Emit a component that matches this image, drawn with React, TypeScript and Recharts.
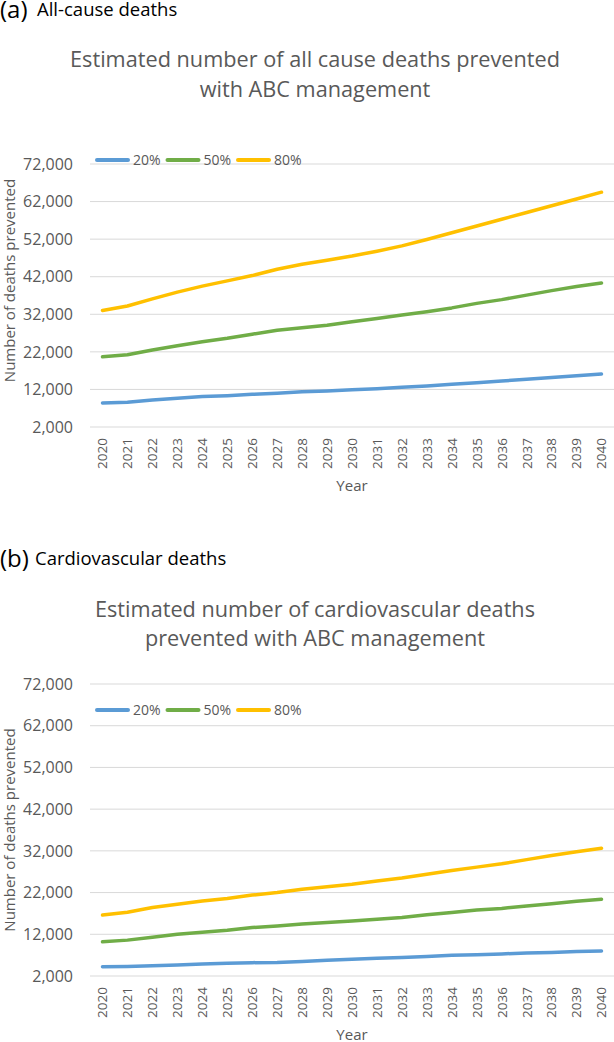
import React from "react";
import { LineChart, Line, XAxis, YAxis, CartesianGrid } from "recharts";

const years = [
  "2020", "2021", "2022", "2023", "2024", "2025", "2026", "2027", "2028", "2029", "2030",
  "2031", "2032", "2033", "2034", "2035", "2036", "2037", "2038", "2039", "2040",
];

// (a) all-cause deaths prevented
const allCause20 = [8400, 8600, 9200, 9650, 10100, 10350, 10700, 11000, 11400, 11600, 11900, 12200, 12550, 12900, 13350, 13800, 14250, 14700, 15200, 15650, 16100];
const allCause50 = [20700, 21250, 22500, 23650, 24700, 25600, 26700, 27750, 28400, 29100, 30000, 30900, 31800, 32700, 33700, 34900, 35900, 37100, 38300, 39400, 40300];
const allCause80 = [33000, 34200, 36100, 37900, 39500, 40900, 42300, 44000, 45300, 46400, 47500, 48800, 50200, 51900, 53700, 55500, 57300, 59100, 60900, 62700, 64500];

// (b) cardiovascular deaths prevented
const cardio20 = [4200, 4300, 4450, 4650, 4850, 5050, 5200, 5250, 5500, 5750, 6000, 6250, 6450, 6700, 6950, 7100, 7300, 7500, 7650, 7850, 8000];
const cardio50 = [10200, 10600, 11300, 12000, 12500, 12950, 13600, 14000, 14450, 14850, 15200, 15600, 16000, 16700, 17200, 17800, 18200, 18800, 19300, 19900, 20400];
const cardio80 = [16600, 17300, 18400, 19200, 20000, 20600, 21400, 22000, 22800, 23400, 24000, 24800, 25500, 26400, 27300, 28100, 28900, 29900, 30900, 31800, 32600];

const yTicks = [2000, 12000, 22000, 32000, 42000, 52000, 62000, 72000];

const series = [
  { key: "p20", name: "20%", color: "#5B9BD5" },
  { key: "p50", name: "50%", color: "#70AD47" },
  { key: "p80", name: "80%", color: "#FFC000" },
];

const FONT = "'Open Sans', sans-serif";
const GREY = "#595959";

const allCauseData = years.map((year, i) => ({
  year,
  p20: allCause20[i],
  p50: allCause50[i],
  p80: allCause80[i],
}));

const cardioData = years.map((year, i) => ({
  year,
  p20: cardio20[i],
  p50: cardio50[i],
  p80: cardio80[i],
}));

const fmt = (v: number) => v.toLocaleString("en-US");

function YearTick(props: any) {
  const { x, y, payload } = props;
  return (
    <text
      x={x}
      y={y}
      transform={`rotate(-90, ${x}, ${y})`}
      textAnchor="end"
      dy="0.36em"
      fontSize={13.5}
      fontFamily={FONT}
      fill={GREY}
    >
      {payload.value}
    </text>
  );
}

function Legend({ y }: { y: number }) {
  return (
    <g>
      {series.map((s, i) => {
        const x0 = 95 + i * 70.5;
        return (
          <g key={s.key}>
            <line x1={x0 + 2} x2={x0 + 33} y1={y} y2={y} stroke={s.color} strokeWidth={4} strokeLinecap="round" />
            <text x={x0 + 38} y={y + 5} fontSize={14} fontFamily={FONT} fill={GREY}>
              {s.name}
            </text>
          </g>
        );
      })}
    </g>
  );
}

type PanelProps = {
  top: number;
  height: number;
  axisHeight: number;
  data: any[];
  yLabelShift: number;
};

function Panel({ top, height, axisHeight, data, yLabelShift }: PanelProps) {
  return (
    <div style={{ position: "absolute", left: 0, top }}>
      <LineChart width={614} height={height} data={data} margin={{ top: 164, right: 0, bottom: 0, left: 0 }}>
        <CartesianGrid vertical={false} stroke="#D9D9D9" strokeWidth={1} />
        <XAxis
          dataKey="year"
          axisLine={false}
          tickLine={false}
          tickSize={0}
          tickMargin={11}
          height={axisHeight}
          interval={0}
          padding={{ left: 12.5, right: 12.5 }}
          tick={<YearTick />}
          label={(p: any) => {
            const vb = p.viewBox || { x: 90, y: height - axisHeight, width: 524 };
            return (
              <text x={vb.x + vb.width / 2} y={vb.y + 64} textAnchor="middle" fontSize={15} fontFamily={FONT} fill={GREY}>
                Year
              </text>
            );
          }}
        />
        <YAxis
          width={90}
          domain={[2000, 72000]}
          ticks={yTicks}
          axisLine={false}
          tickLine={false}
          tickSize={0}
          tickMargin={17}
          tickFormatter={fmt}
          tick={{ fontSize: 16, fontFamily: FONT, fill: GREY }}
          label={(p: any) => {
            const vb = p.viewBox || { x: 0, y: 164, height: height - axisHeight - 164 };
            const cy = vb.y + vb.height / 2 + yLabelShift;
            return (
              <text
                x={15}
                y={cy}
                transform={`rotate(-90, 15, ${cy})`}
                textAnchor="middle"
                fontSize={15}
                fontFamily={FONT}
                fill={GREY}
              >
                Number of deaths prevented
              </text>
            );
          }}
        />
        {series.map((s) => (
          <Line
            key={s.key}
            type="linear"
            dataKey={s.key}
            name={s.name}
            stroke={s.color}
            strokeWidth={3.5}
            strokeLinejoin="round"
            strokeLinecap="round"
            dot={false}
            activeDot={false}
            isAnimationActive={false}
          />
        ))}
      </LineChart>
    </div>
  );
}

export default function App() {
  return (
    <div style={{ position: "absolute", left: 0, top: 0, width: 614, height: 1042, background: "#fff", overflow: "hidden" }}>
      <Panel top={0} height={520} axisHeight={93} data={allCauseData} yLabelShift={-15} />
      <Panel top={520} height={522} axisHeight={66} data={cardioData} yLabelShift={0} />
      <svg width={614} height={1042} style={{ position: "absolute", left: 0, top: 0, pointerEvents: "none" }}>
        <text x={0} y={18} fontFamily={FONT} fill="#000">
          <tspan fontSize={24}>(a)</tspan>
          <tspan x={37} y={15.5} fontSize={18.5}>All-cause deaths</tspan>
        </text>
        <text x={315} y={66.5} textAnchor="middle" fontSize={21.7} fontFamily={FONT} fill={GREY}>
          Estimated number of all cause deaths prevented
        </text>
        <text x={315} y={96.5} textAnchor="middle" fontSize={21.7} fontFamily={FONT} fill={GREY}>
          with ABC management
        </text>
        <Legend y={160} />

        <text x={0} y={567} fontFamily={FONT} fill="#000">
          <tspan fontSize={24}>(b)</tspan>
          <tspan x={35} y={564.5} fontSize={18.5}>Cardiovascular deaths</tspan>
        </text>
        <text x={315} y={616.5} textAnchor="middle" fontSize={21.7} fontFamily={FONT} fill={GREY}>
          Estimated number of cardiovascular deaths
        </text>
        <text x={315} y={645.5} textAnchor="middle" fontSize={21.7} fontFamily={FONT} fill={GREY}>
          prevented with ABC management
        </text>
        <Legend y={710} />
      </svg>
    </div>
  );
}
